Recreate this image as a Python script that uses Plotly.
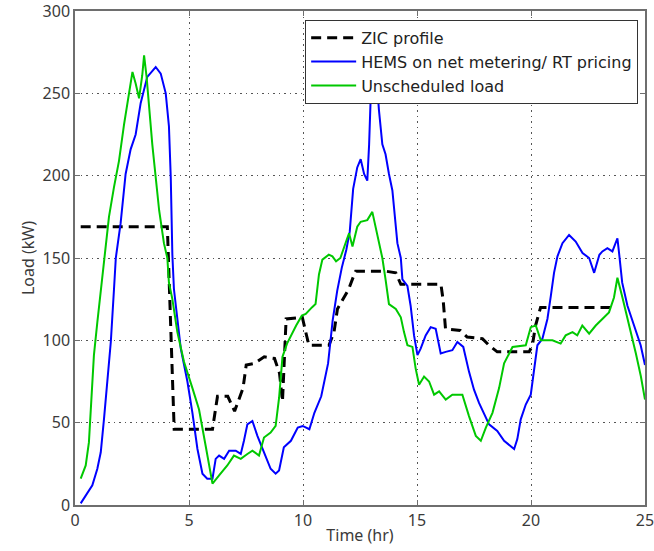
import plotly.graph_objects as go

# ---- data ----
zic_t = [0.25, 4.05, 4.35, 6.03, 6.25, 6.7, 7.0, 7.37, 7.51, 7.87, 8.3, 8.75, 8.97, 9.1,
         9.26, 9.97, 10.12, 10.26, 11.14, 11.36, 11.51, 12.0, 12.22, 12.31, 13.63, 14.07,
         14.29, 16.05, 16.15, 16.25, 16.9, 17.2, 17.87, 18.16, 18.52, 19.92, 20.06, 20.2,
         20.42, 23.7]
zic_load = [169, 169, 46, 46, 66, 66, 57, 71, 85, 86, 90, 89, 80, 63,
            113, 114, 105, 97, 97, 105, 119, 131, 139, 142, 142, 141,
            134, 134, 124, 107, 106, 102, 101, 97, 93, 93, 97, 109,
            120, 120]

hems_t = [0.25, 0.54, 0.76, 0.98, 1.13, 1.27, 1.42, 1.57, 1.71, 1.79, 2.0, 2.22, 2.44, 2.66,
          2.88, 3.17, 3.54, 3.76, 3.98, 4.12, 4.2, 4.27, 4.34, 4.64, 4.93, 5.15, 5.37, 5.59,
          5.8, 6.03, 6.17, 6.32, 6.54, 6.76, 7.05, 7.27, 7.41, 7.56, 7.78, 8.0, 8.29, 8.58,
          8.8, 8.95, 9.16, 9.47, 9.77, 9.99, 10.28, 10.5, 10.8, 11.1, 11.3, 11.5, 11.7, 11.9,
          12.05, 12.2, 12.38, 12.53, 12.68, 12.82, 12.9, 12.97, 13.1, 13.26, 13.33, 13.48,
          13.62, 13.77, 13.92, 14.14, 14.29, 14.36, 14.58, 14.72, 14.87, 15.02, 15.16, 15.38,
          15.6, 15.82, 16.04, 16.26, 16.55, 16.77, 17.03, 17.28, 17.5, 17.72, 17.94, 18.16,
          18.52, 18.82, 19.26, 19.4, 19.55, 19.77, 19.99, 20.13, 20.28, 20.5, 20.72, 20.87,
          21.01, 21.16, 21.38, 21.67, 21.96, 22.26, 22.55, 22.77, 23.0, 23.13, 23.35, 23.57,
          23.79, 23.87, 24.0, 24.23, 24.52, 24.81, 25.0]
hems_load = [1, 7, 12, 22, 32, 52, 75, 99, 131, 150, 171, 201, 216, 225,
             244, 260, 266, 262, 250, 230, 199, 152, 131, 95, 75, 56, 34, 19,
             16, 16, 28, 30, 28, 33, 33, 31, 39, 49, 51, 42, 32, 22,
             19, 21, 35, 39, 47, 48, 46, 56, 66, 86, 112, 130, 144, 155,
             166, 192, 205, 210, 201, 197, 219, 248, 285, 249, 240, 219,
             213, 201, 191, 159, 150, 137, 133, 121, 103, 91, 95, 103,
             108, 107, 92, 93, 94, 99, 96, 81, 70, 62, 55, 49,
             45, 39, 34, 40, 52, 61, 67, 81, 97, 101, 113, 127,
             141, 151, 159, 164, 160, 153, 150, 141, 152, 154, 156, 154,
             162, 152, 135, 121, 109, 97, 85]

uns_t = [0.25, 0.47, 0.61, 0.69, 0.83, 0.98, 1.13, 1.27, 1.49, 1.71, 1.93, 2.15, 2.37, 2.52,
         2.66, 2.81, 2.95, 3.03, 3.14, 3.25, 3.39, 3.54, 3.69, 3.9, 4.05, 4.12, 4.27, 4.49,
         4.78, 5.15, 5.44, 5.73, 6.03, 6.32, 6.68, 6.97, 7.27, 7.56, 7.78, 8.07, 8.29, 8.58,
         8.8, 8.95, 9.1, 9.3, 9.5, 9.7, 9.95, 10.12, 10.39, 10.55, 10.7, 10.85, 11.13, 11.29,
         11.45, 11.64, 11.94, 12.02, 12.17, 12.38, 12.53, 12.82, 13.04, 13.26, 13.48, 13.62,
         13.77, 14.07, 14.29, 14.43, 14.58, 14.8, 14.94, 15.09, 15.31, 15.53, 15.75, 15.97,
         16.26, 16.55, 16.99, 17.28, 17.58, 17.8, 18.02, 18.31, 18.6, 18.82, 19.19, 19.77,
         19.99, 20.21, 20.43, 20.94, 21.3, 21.52, 21.82, 22.03, 22.25, 22.55, 22.84, 23.13,
         23.42, 23.64, 23.79, 24.01, 24.3, 24.6, 24.82, 25.0]
uns_load = [16, 24, 38, 56, 91, 111, 131, 150, 175, 193, 209, 231, 250, 263,
            256, 247, 261, 273, 260, 240, 219, 199, 179, 159, 150, 135, 125, 105,
            87, 71, 58, 36, 13, 18, 24, 30, 28, 31, 33, 30, 41, 44,
            48, 65, 90, 98, 104, 109, 115, 116, 120, 122, 140, 149, 152, 151,
            148, 150, 162, 165, 157, 169, 172, 173, 178, 163, 150, 137,
            122, 119, 114, 105, 97, 96, 83, 73, 78, 75, 67, 69,
            64, 67, 67, 54, 42, 39, 47, 56, 71, 86, 96, 97,
            108, 109, 100, 100, 98, 103, 105, 103, 109, 104, 109, 113,
            117, 126, 138, 126, 110, 92, 78, 64]

x_ticks = [0, 5, 10, 15, 20, 25]
y_ticks = [0, 50, 100, 150, 200, 250, 300]

FONT = "Noto Sans"
TXT = "#3a3a3a"

fig = go.Figure()
fig.add_trace(go.Scatter(x=zic_t, y=zic_load, mode="lines", name="ZIC profile",
                         line=dict(color="black", width=3, dash="10px,6px")))
fig.add_trace(go.Scatter(x=hems_t, y=hems_load, mode="lines",
                         name="HEMS on net metering/ RT pricing",
                         line=dict(color="#0000ff", width=2)))
fig.add_trace(go.Scatter(x=uns_t, y=uns_load, mode="lines", name="Unscheduled load",
                         line=dict(color="#00c800", width=2)))

axis_common = dict(
    showgrid=True, gridcolor="#555555", griddash="2px,4px,1px,4px", gridwidth=1,
    showline=True, linecolor="#6e6e6e", linewidth=1.5, mirror="ticks",
    ticks="inside", ticklen=5, tickcolor="#6e6e6e", zeroline=False,
    ticklabeloverflow="allow",
    tickfont=dict(family=FONT, size=16, color=TXT),
)

fig.update_layout(
    width=654, height=551,
    margin=dict(l=75, r=9, t=11, b=46, autoexpand=False),
    paper_bgcolor="white", plot_bgcolor="white",
    font=dict(family=FONT, color=TXT),
    xaxis=dict(range=[0, 25], tickvals=x_ticks, ticktext=[str(v) for v in x_ticks],
               title=dict(text="Time (hr)", font=dict(family=FONT, size=16, color=TXT),
                          standoff=0),
               automargin=False, **axis_common),
    yaxis=dict(range=[0, 300], tickvals=y_ticks, ticktext=[str(v) for v in y_ticks],
               title=dict(text="Load (kW)", font=dict(family=FONT, size=16, color=TXT),
                          standoff=4),
               automargin=False, **axis_common),
    legend=dict(x=0.988, y=0.982, xanchor="right", yanchor="top",
                bgcolor="white", bordercolor="#333333", borderwidth=1,
                font=dict(family="DejaVu Sans", size=16, color="#222222"),
                itemwidth=45, tracegroupgap=0),
    showlegend=True,
)

fig.write_html("out.html", config={"displayModeBar": False},
               post_script="document.body.style.margin='0';document.body.style.overflow='hidden';")
